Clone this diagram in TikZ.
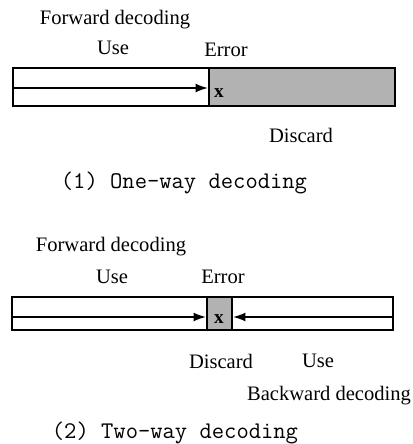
\documentclass[tikz,border=0pt]{standalone}
\usepackage{fontspec}
\setmainfont{Liberation Serif}
\usetikzlibrary{arrows.meta}
\begin{document}
\begin{tikzpicture}[x=0.02cm,y=-0.02cm,
  lbl/.style={inner sep=0pt,font=\fontsize{11.7}{14}\selectfont},
  captext/.style={inner sep=0pt,font=\fontsize{13.6}{16}\selectfont\ttfamily},
  boxline/.style={line width=1.2pt},
  shadefill/.style={fill=black!30},
  arr/.style={line width=0.9pt,-{Latex[length=7pt,width=5pt]}},
  xmark/.style={inner sep=0pt,font=\fontsize{11}{12}\selectfont\bfseries}]
\useasboundingbox (0,0) rectangle (413,444);
% ---- (1) One-way decoding
\node[lbl] (fd1) at (115,20) {Forward decoding};
\node[lbl] (use1) at (113,48) {Use};
\node[lbl] (err1) at (226,50) {Error};
\fill[shadefill] (209,68) rectangle (395,106);
\draw[boxline] (13,68) rectangle (395,106);
\draw[boxline] (209,68) -- (209,106);
\coordinate (s1) at (14,88);
\coordinate (e1) at (208,88);
\draw[arr] (s1) -- (e1);
\node[xmark] (x1) at (219,93) {x};
\node[lbl] (dis1) at (301,135) {Discard};
\node[captext] (c1) at (184,183) {(1) One-way decoding};
% ---- (2) Two-way decoding
\node[lbl] (fd2) at (111,247) {Forward decoding};
\node[lbl] (use2) at (112,277) {Use};
\node[lbl] (err2) at (223,277) {Error};
\fill[shadefill] (207,297) rectangle (232,330);
\draw[boxline] (12,297) rectangle (393,330);
\draw[boxline] (207,297) -- (207,330);
\draw[boxline] (232,297) -- (232,330);
\coordinate (s2) at (13,317);
\coordinate (e2) at (206,317);
\coordinate (s3) at (392,317);
\coordinate (e3) at (233,317);
\draw[arr] (s2) -- (e2);
\draw[arr] (s3) -- (e3);
\node[xmark] (x2) at (219,319) {x};
\node[lbl] (dis2) at (221,361) {Discard};
\node[lbl] (use3) at (318,361) {Use};
\node[lbl] (bd) at (329,396) {Backward decoding};
\node[captext] (c2) at (175,433) {(2) Two-way decoding};
\end{tikzpicture}
\end{document}
